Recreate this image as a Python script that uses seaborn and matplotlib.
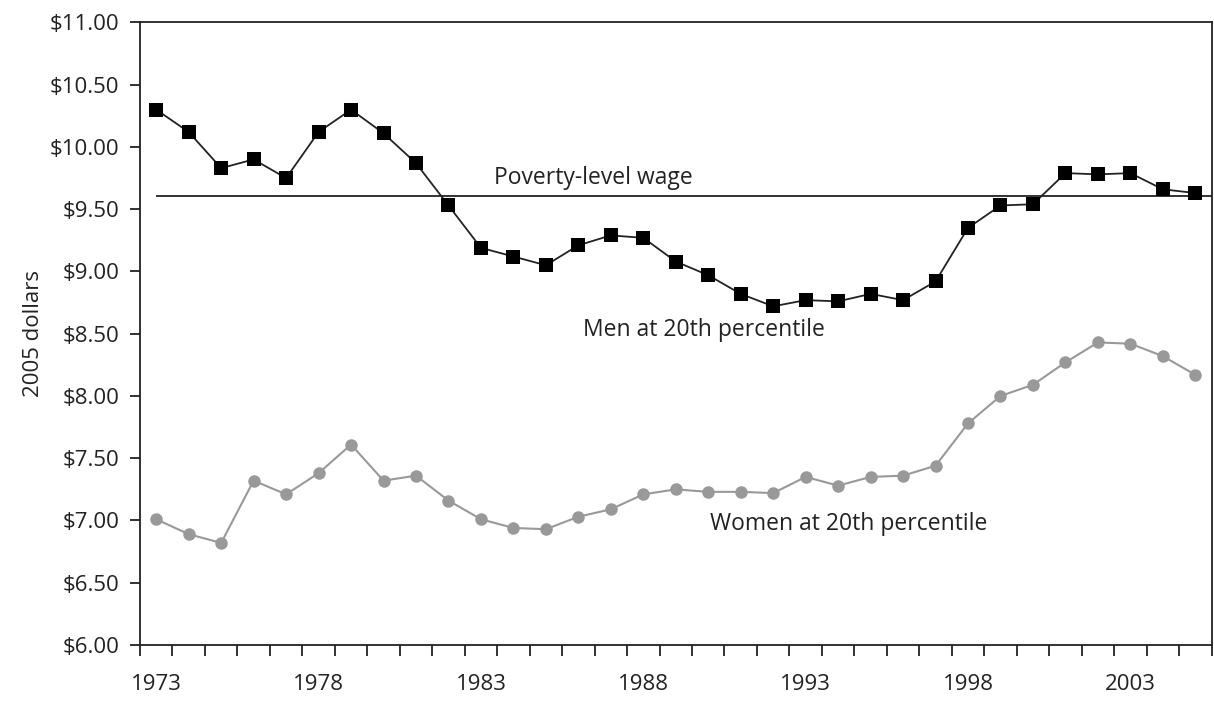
import numpy as np
import pandas as pd
import matplotlib
matplotlib.use("Agg")
import matplotlib.pyplot as plt
import seaborn as sns
from matplotlib.ticker import FixedLocator, FuncFormatter

years = list(range(1973, 2006))
men = [10.30, 10.12, 9.83, 9.90, 9.75, 10.12, 10.30, 10.11, 9.87, 9.53,
       9.19, 9.12, 9.05, 9.21, 9.29, 9.27, 9.08, 8.97, 8.82, 8.72,
       8.77, 8.76, 8.82, 8.77, 8.92, 9.35, 9.53, 9.54, 9.79, 9.78,
       9.79, 9.66, 9.63]
women = [7.01, 6.89, 6.82, 7.32, 7.21, 7.38, 7.61, 7.32, 7.36, 7.16,
         7.01, 6.94, 6.93, 7.03, 7.09, 7.21, 7.25, 7.23, 7.23, 7.22,
         7.35, 7.28, 7.35, 7.36, 7.44, 7.78, 8.00, 8.09, 8.27, 8.43,
         8.42, 8.32, 8.17]
poverty_wage = 9.61
year_labels = [1973, 1978, 1983, 1988, 1993, 1998, 2003]

sns.set_theme(style="white")
plt.rcParams['font.family'] = ['Open Sans', 'DejaVu Sans']

df = pd.DataFrame({'year': years, 'men': men, 'women': women})

fig = plt.figure(figsize=(12.14, 7.02), dpi=100)
ax = fig.add_axes([0.1153, 0.0812, 0.8827, 0.8868])

# poverty line starts at first data point and runs to the right edge
ax.hlines(poverty_wage, years[0], 2005.5, color='#222222', lw=1.3, zorder=1)

sns.lineplot(data=df, x='year', y='women', ax=ax, color='#999999', lw=1.5,
             marker='o', markersize=9, markeredgewidth=0, zorder=2)
sns.lineplot(data=df, x='year', y='men', ax=ax, color='#222222', lw=1.3,
             marker='s', markersize=9.5, markerfacecolor='black',
             markeredgewidth=0, zorder=3)

ax.set_xlim(1972.5, 2005.5)
ax.set_ylim(6.0, 11.0)
ax.set_yticks(np.arange(6.0, 11.01, 0.5))
ax.yaxis.set_major_formatter(FuncFormatter(lambda v, p: f"${v:.2f}"))
ax.xaxis.set_major_locator(FixedLocator(year_labels))
ax.xaxis.set_minor_locator(FixedLocator(np.arange(1972.5, 2005.6, 1.0)))
ax.tick_params(axis='x', which='major', length=0, pad=21, labelsize=16, colors='#222222')
ax.tick_params(axis='x', which='minor', length=8, width=1.3, direction='out',
               color='#222222', bottom=True)
ax.tick_params(axis='y', length=7, width=1.3, direction='out', left=True,
               labelsize=16, colors='#222222', pad=8)

for s in ax.spines.values():
    s.set_color('#222222')
    s.set_linewidth(1.3)

ax.set_xlabel('')
ax.set_ylabel('2005 dollars', fontsize=16, color='#222222', labelpad=4)

ax.text(1983.4, 9.70, 'Poverty-level wage', fontsize=16.5, color='#222222')
ax.text(1986.15, 8.48, 'Men at 20th percentile', fontsize=16.5, color='#222222')
ax.text(1990.05, 6.92, 'Women at 20th percentile', fontsize=16.5, color='#222222')

fig.savefig('out.png', dpi=100)
